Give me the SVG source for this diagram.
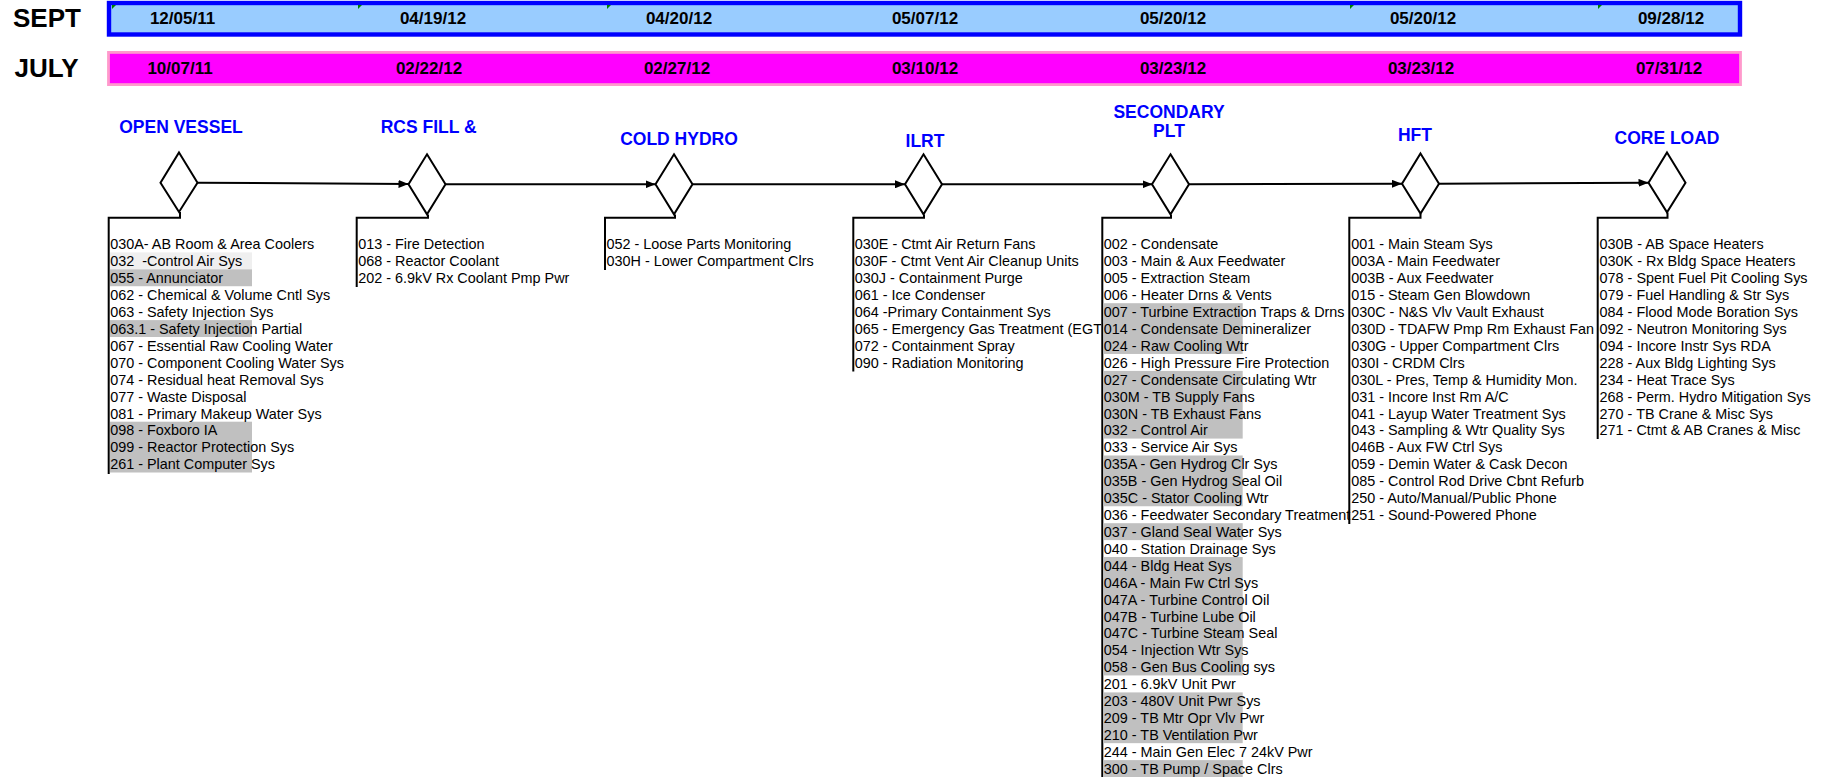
<svg xmlns="http://www.w3.org/2000/svg" width="1831" height="777" viewBox="0 0 1831 777">
<style>
.lbl{font-family:"Liberation Sans",Arial,sans-serif;font-weight:bold;font-size:26px;fill:#000}
.date{font-family:"Liberation Sans",Arial,sans-serif;font-weight:bold;font-size:17px;fill:#000;text-anchor:middle}
.ttl{font-family:"Liberation Sans",Arial,sans-serif;font-weight:bold;font-size:17.5px;fill:#0000FF;text-anchor:middle}
.lst{font-family:"Liberation Sans",Arial,sans-serif;font-size:14.4px;fill:#000;white-space:pre}
.dia{fill:#fff;stroke:#000;stroke-width:2}
.con{fill:none;stroke:#000;stroke-width:2}
.g{fill:#C0C0C0}
.lg{fill:#EFEFEF}
.flag{fill:#008000}
</style>
<defs>
<marker id="ah" markerWidth="10" markerHeight="8" refX="10" refY="4" orient="auto" markerUnits="userSpaceOnUse">
<path d="M0,0 L10,4 L0,8 Z" fill="#000"/>
</marker>
<clipPath id="c4"><rect x="850" y="230" width="251.3" height="160"/></clipPath>
<clipPath id="c6"><rect x="1345" y="230" width="251.7" height="300"/></clipPath>
</defs>
<rect width="1831" height="777" fill="#fff"/>

<g id="timeline-bars">
<text class="lbl" x="13" y="26.7">SEPT</text>
<text class="lbl" x="14.5" y="76.6">JULY</text>
<rect x="109" y="3" width="1631" height="31.5" fill="#99CCFF" stroke="#0000FF" stroke-width="4.4"/>
<path class="flag" d="M112,5 h4 L112,9 Z M358,5 h4 L358,9 Z M607,5 h4 L607,9 Z M1350,5 h4 L1350,9 Z M1598,5 h4 L1598,9 Z"/>
<rect x="108.5" y="52.4" width="1632" height="32.2" fill="#FF00FF" stroke="#FF99CC" stroke-width="2.8"/>
<text class="date" x="182.5" y="24.3">12/05/11</text>
<text class="date" x="433" y="24.3">04/19/12</text>
<text class="date" x="679" y="24.3">04/20/12</text>
<text class="date" x="925" y="24.3">05/07/12</text>
<text class="date" x="1173" y="24.3">05/20/12</text>
<text class="date" x="1423" y="24.3">05/20/12</text>
<text class="date" x="1671" y="24.3">09/28/12</text>
<text class="date" x="180" y="74">10/07/11</text>
<text class="date" x="429" y="74">02/22/12</text>
<text class="date" x="677" y="74">02/27/12</text>
<text class="date" x="925" y="74">03/10/12</text>
<text class="date" x="1173" y="74">03/23/12</text>
<text class="date" x="1421" y="74">03/23/12</text>
<text class="date" x="1669" y="74">07/31/12</text>
</g>

<g id="connectors">
<line class="con" x1="197.5" y1="182.7" x2="408.5" y2="184" marker-end="url(#ah)"/>
<line class="con" x1="445.5" y1="184.3" x2="655.5" y2="184.3" marker-end="url(#ah)"/>
<line class="con" x1="692.5" y1="184.3" x2="905" y2="184.3" marker-end="url(#ah)"/>
<line class="con" x1="942" y1="184.3" x2="1152.5" y2="184.3" marker-end="url(#ah)"/>
<line class="con" x1="1189" y1="184.3" x2="1402" y2="183.8" marker-end="url(#ah)"/>
<line class="con" x1="1439" y1="183.7" x2="1648.5" y2="182.8" marker-end="url(#ah)"/>
<polyline class="con" points="180,212 180,217.7 108.7,217.7 108.7,474"/>
<polyline class="con" points="428,214.5 428,217.7 356.7,217.7 356.7,287"/>
<polyline class="con" points="675,214.5 675,217.7 605,217.7 605,270"/>
<polyline class="con" points="924,214.5 924,217.7 853.3,217.7 853.3,371.5"/>
<polyline class="con" points="1171,214.5 1171,217.7 1102.3,217.7 1102.3,777"/>
<polyline class="con" points="1420.5,213.5 1420.5,217.7 1349.3,217.7 1349.3,524"/>
<polyline class="con" points="1667.5,212.5 1667.5,217.7 1597.7,217.7 1597.7,439"/>
</g>

<g id="open-vessel">
<text class="ttl" x="181" y="132.7">OPEN VESSEL</text>
<polygon class="dia" points="179,152.5 197.5,182.7 179,212 160.5,182.7"/>
<rect class="lg" x="110" y="252.4" width="142" height="16.92"/>
<rect class="g" x="110" y="269.3" width="142" height="16.92"/>
<rect class="g" x="110" y="320.1" width="142" height="16.92"/>
<rect class="g" x="110" y="421.7" width="142" height="50.8"/>
<text class="lst" x="110.2" y="249.3"><tspan x="110.2">030A- AB Room &amp; Area Coolers</tspan><tspan x="110.2" dy="16.92">032  -Control Air Sys</tspan><tspan x="110.2" dy="16.92">055 - Annunciator</tspan><tspan x="110.2" dy="16.92">062 - Chemical &amp; Volume Cntl Sys</tspan><tspan x="110.2" dy="16.92">063 - Safety Injection Sys</tspan><tspan x="110.2" dy="16.92">063.1 - Safety Injection Partial</tspan><tspan x="110.2" dy="16.92">067 - Essential Raw Cooling Water</tspan><tspan x="110.2" dy="16.92">070 - Component Cooling Water Sys</tspan><tspan x="110.2" dy="16.92">074 - Residual heat Removal Sys</tspan><tspan x="110.2" dy="16.92">077 - Waste Disposal</tspan><tspan x="110.2" dy="16.92">081 - Primary Makeup Water Sys</tspan><tspan x="110.2" dy="16.92">098 - Foxboro IA</tspan><tspan x="110.2" dy="16.92">099 - Reactor Protection Sys</tspan><tspan x="110.2" dy="16.92">261 - Plant Computer Sys</tspan></text>
</g>

<g id="rcs-fill">
<text class="ttl" x="428.6" y="132.7">RCS FILL &amp;</text>
<polygon class="dia" points="427,154.3 445.5,184.3 427,214.3 408.5,184.3"/>
<text class="lst" x="358.2" y="249.3"><tspan x="358.2">013 - Fire Detection</tspan><tspan x="358.2" dy="16.92">068 - Reactor Coolant</tspan><tspan x="358.2" dy="16.92">202 - 6.9kV Rx Coolant Pmp Pwr</tspan></text>
</g>

<g id="cold-hydro">
<text class="ttl" x="679" y="145">COLD HYDRO</text>
<polygon class="dia" points="674,154.3 692.5,184.3 674,214.3 655.5,184.3"/>
<text class="lst" x="606.5" y="249.3"><tspan x="606.5">052 - Loose Parts Monitoring</tspan><tspan x="606.5" dy="16.92">030H - Lower Compartment Clrs</tspan></text>
</g>

<g id="ilrt">
<text class="ttl" x="925" y="147.3">ILRT</text>
<polygon class="dia" points="923.5,154.3 942,184.3 923.5,214.3 905,184.3"/>
<text class="lst" x="854.8" y="249.3" clip-path="url(#c4)"><tspan x="854.8">030E - Ctmt Air Return Fans</tspan><tspan x="854.8" dy="16.92">030F - Ctmt Vent Air Cleanup Units</tspan><tspan x="854.8" dy="16.92">030J - Containment Purge</tspan><tspan x="854.8" dy="16.92">061 - Ice Condenser</tspan><tspan x="854.8" dy="16.92">064 -Primary Containment Sys</tspan><tspan x="854.8" dy="16.92">065 - Emergency Gas Treatment (EGT</tspan><tspan x="854.8" dy="16.92">072 - Containment Spray</tspan><tspan x="854.8" dy="16.92">090 - Radiation Monitoring</tspan></text>
</g>

<g id="secondary-plt">
<text class="ttl" x="1169" y="118.3">SECONDARY</text>
<text class="ttl" x="1169" y="136.7">PLT</text>
<polygon class="dia" points="1170.5,154.3 1189,184.3 1170.5,214.3 1152,184.3"/>
<rect class="g" x="1103.3" y="303.2" width="139.4" height="50.76"/>
<rect class="g" x="1103.3" y="370.9" width="139.4" height="67.68"/>
<rect class="g" x="1103.3" y="455.5" width="139.4" height="50.76"/>
<rect class="g" x="1103.3" y="523.2" width="139.4" height="16.92"/>
<rect class="g" x="1103.3" y="557.0" width="139.4" height="118.44"/>
<rect class="g" x="1103.3" y="692.4" width="139.4" height="50.76"/>
<rect class="g" x="1103.3" y="760.1" width="139.4" height="16.92"/>
<text class="lst" x="1103.8" y="249.3"><tspan x="1103.8">002 - Condensate</tspan><tspan x="1103.8" dy="16.92">003 - Main &amp; Aux Feedwater</tspan><tspan x="1103.8" dy="16.92">005 - Extraction Steam</tspan><tspan x="1103.8" dy="16.92">006 - Heater Drns &amp; Vents</tspan><tspan x="1103.8" dy="16.92">007 - Turbine Extraction Traps &amp; Drns</tspan><tspan x="1103.8" dy="16.92">014 - Condensate Demineralizer</tspan><tspan x="1103.8" dy="16.92">024 - Raw Cooling Wtr</tspan><tspan x="1103.8" dy="16.92">026 - High Pressure Fire Protection</tspan><tspan x="1103.8" dy="16.92">027 - Condensate Circulating Wtr</tspan><tspan x="1103.8" dy="16.92">030M - TB Supply Fans</tspan><tspan x="1103.8" dy="16.92">030N - TB Exhaust Fans</tspan><tspan x="1103.8" dy="16.92">032 - Control Air</tspan><tspan x="1103.8" dy="16.92">033 - Service Air Sys</tspan><tspan x="1103.8" dy="16.92">035A - Gen Hydrog Clr Sys</tspan><tspan x="1103.8" dy="16.92">035B - Gen Hydrog Seal Oil</tspan><tspan x="1103.8" dy="16.92">035C - Stator Cooling Wtr</tspan><tspan x="1103.8" dy="16.92">036 - Feedwater Secondary Treatment</tspan><tspan x="1103.8" dy="16.92">037 - Gland Seal Water Sys</tspan><tspan x="1103.8" dy="16.92">040 - Station Drainage Sys</tspan><tspan x="1103.8" dy="16.92">044 - Bldg Heat Sys</tspan><tspan x="1103.8" dy="16.92">046A - Main Fw Ctrl Sys</tspan><tspan x="1103.8" dy="16.92">047A - Turbine Control Oil</tspan><tspan x="1103.8" dy="16.92">047B - Turbine Lube Oil</tspan><tspan x="1103.8" dy="16.92">047C - Turbine Steam Seal</tspan><tspan x="1103.8" dy="16.92">054 - Injection Wtr Sys</tspan><tspan x="1103.8" dy="16.92">058 - Gen Bus Cooling sys</tspan><tspan x="1103.8" dy="16.92">201 - 6.9kV Unit Pwr</tspan><tspan x="1103.8" dy="16.92">203 - 480V Unit Pwr Sys</tspan><tspan x="1103.8" dy="16.92">209 - TB Mtr Opr Vlv Pwr</tspan><tspan x="1103.8" dy="16.92">210 - TB Ventilation Pwr</tspan><tspan x="1103.8" dy="16.92">244 - Main Gen Elec 7 24kV Pwr</tspan><tspan x="1103.8" dy="16.92">300 - TB Pump / Space Clrs</tspan></text>
</g>

<g id="hft">
<text class="ttl" x="1415" y="140.7">HFT</text>
<polygon class="dia" points="1420.5,153.5 1439,183.7 1420.5,213.5 1402,183.7"/>
<text class="lst" x="1351.2" y="249.3" clip-path="url(#c6)"><tspan x="1351.2">001 - Main Steam Sys</tspan><tspan x="1351.2" dy="16.92">003A - Main Feedwater</tspan><tspan x="1351.2" dy="16.92">003B - Aux Feedwater</tspan><tspan x="1351.2" dy="16.92">015 - Steam Gen Blowdown</tspan><tspan x="1351.2" dy="16.92">030C - N&amp;S Vlv Vault Exhaust</tspan><tspan x="1351.2" dy="16.92">030D - TDAFW Pmp Rm Exhaust Fan</tspan><tspan x="1351.2" dy="16.92">030G - Upper Compartment Clrs</tspan><tspan x="1351.2" dy="16.92">030I - CRDM Clrs</tspan><tspan x="1351.2" dy="16.92">030L - Pres, Temp &amp; Humidity Mon.</tspan><tspan x="1351.2" dy="16.92">031 - Incore Inst Rm A/C</tspan><tspan x="1351.2" dy="16.92">041 - Layup Water Treatment Sys</tspan><tspan x="1351.2" dy="16.92">043 - Sampling &amp; Wtr Quality Sys</tspan><tspan x="1351.2" dy="16.92">046B - Aux FW Ctrl Sys</tspan><tspan x="1351.2" dy="16.92">059 - Demin Water &amp; Cask Decon</tspan><tspan x="1351.2" dy="16.92">085 - Control Rod Drive Cbnt Refurb</tspan><tspan x="1351.2" dy="16.92">250 - Auto/Manual/Public Phone</tspan><tspan x="1351.2" dy="16.92">251 - Sound-Powered Phone</tspan></text>
</g>

<g id="core-load">
<text class="ttl" x="1667" y="144.3">CORE LOAD</text>
<polygon class="dia" points="1667,152.5 1685.5,182.7 1667,212.3 1648.5,182.7"/>
<text class="lst" x="1599.6" y="249.3"><tspan x="1599.6">030B - AB Space Heaters</tspan><tspan x="1599.6" dy="16.92">030K - Rx Bldg Space Heaters</tspan><tspan x="1599.6" dy="16.92">078 - Spent Fuel Pit Cooling Sys</tspan><tspan x="1599.6" dy="16.92">079 - Fuel Handling &amp; Str Sys</tspan><tspan x="1599.6" dy="16.92">084 - Flood Mode Boration Sys</tspan><tspan x="1599.6" dy="16.92">092 - Neutron Monitoring Sys</tspan><tspan x="1599.6" dy="16.92">094 - Incore Instr Sys RDA</tspan><tspan x="1599.6" dy="16.92">228 - Aux Bldg Lighting Sys</tspan><tspan x="1599.6" dy="16.92">234 - Heat Trace Sys</tspan><tspan x="1599.6" dy="16.92">268 - Perm. Hydro Mitigation Sys</tspan><tspan x="1599.6" dy="16.92">270 - TB Crane &amp; Misc Sys</tspan><tspan x="1599.6" dy="16.92">271 - Ctmt &amp; AB Cranes &amp; Misc</tspan></text>
</g>
</svg>
